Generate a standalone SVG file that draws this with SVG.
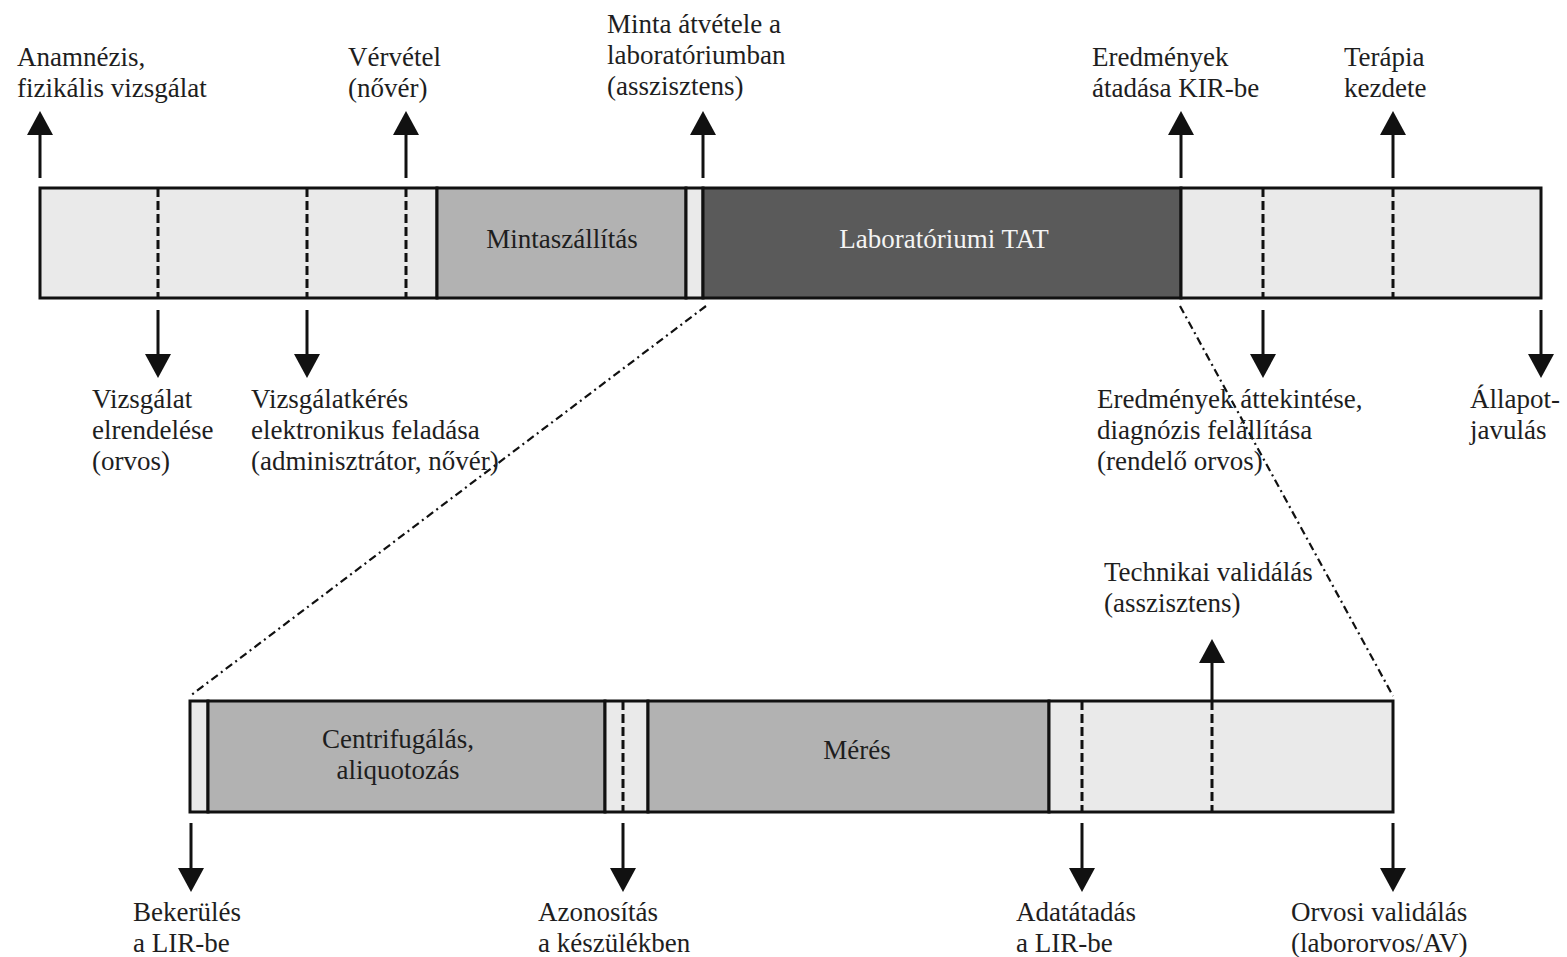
<svg xmlns="http://www.w3.org/2000/svg" width="1567" height="957" viewBox="0 0 1567 957">
<defs>
<marker id="ah" markerUnits="userSpaceOnUse" markerWidth="24" markerHeight="26" refX="0" refY="13" orient="auto" viewBox="0 0 24 26">
<path d="M0,0 L24,13 L0,26 z" fill="#111"/>
</marker>
<style>
.t{font-family:"Liberation Serif","Times New Roman",serif;font-size:27px;fill:#1e1e1e}
.w{fill:#f4f4f4}
.c{text-anchor:middle}
.light{fill:#eaeaea;stroke:#111;stroke-width:3}
.mid{fill:#b2b2b2;stroke:#111;stroke-width:3}
.dark{fill:#5a5a5a;stroke:#111;stroke-width:3}
.dash{stroke:#111;stroke-width:3;stroke-dasharray:9 4;fill:none}
.arr{stroke:#111;stroke-width:3;fill:none;marker-end:url(#ah)}
.zoom{stroke:#111;stroke-width:2.2;fill:none;stroke-dasharray:8 4 2 4}
</style>
</defs>
<rect width="1567" height="957" fill="#fff"/>

<g id="top-pre">
<rect class="light" x="40" y="188" width="397" height="110"/>
<line class="dash" x1="158" y1="188" x2="158" y2="298"/>
<line class="dash" x1="307" y1="188" x2="307" y2="298"/>
<line class="dash" x1="406" y1="188" x2="406" y2="298"/>
</g>
<g id="top-transport">
<rect class="mid" x="437" y="188" width="249" height="110"/>
<text class="t c" x="562" y="248">Mintaszállítás</text>
</g>
<g id="top-gap">
<rect class="light" x="686" y="188" width="17" height="110"/>
</g>
<g id="top-lab">
<rect class="dark" x="703" y="188" width="478" height="110"/>
<text class="t c w" x="944" y="248">Laboratóriumi TAT</text>
</g>
<g id="top-post">
<rect class="light" x="1181" y="188" width="360" height="110"/>
<line class="dash" x1="1263" y1="188" x2="1263" y2="298"/>
<line class="dash" x1="1393" y1="188" x2="1393" y2="298"/>
</g>

<g id="bot-in">
<rect class="light" x="190" y="701" width="18" height="111"/>
</g>
<g id="bot-centri">
<rect class="mid" x="208" y="701" width="397" height="111"/>
<text class="t c" x="398" y="748">Centrifugálás,<tspan x="398" dy="31">aliquotozás</tspan></text>
</g>
<g id="bot-id">
<rect class="light" x="605" y="701" width="43" height="111"/>
<line class="dash" x1="623" y1="701" x2="623" y2="812"/>
</g>
<g id="bot-meres">
<rect class="mid" x="648" y="701" width="401" height="111"/>
<text class="t c" x="857" y="759">Mérés</text>
</g>
<g id="bot-valid">
<rect class="light" x="1049" y="701" width="344" height="111"/>
<line class="dash" x1="1082" y1="701" x2="1082" y2="812"/>
<line class="dash" x1="1212" y1="701" x2="1212" y2="812"/>
</g>

<g id="connectors">
<line class="arr" x1="40" y1="178" x2="40" y2="135"/>
<line class="arr" x1="406" y1="178" x2="406" y2="135"/>
<line class="arr" x1="703" y1="178" x2="703" y2="135"/>
<line class="arr" x1="1181" y1="178" x2="1181" y2="135"/>
<line class="arr" x1="1393" y1="178" x2="1393" y2="135"/>
<line class="arr" x1="158" y1="310" x2="158" y2="354"/>
<line class="arr" x1="307" y1="310" x2="307" y2="354"/>
<line class="arr" x1="1263" y1="310" x2="1263" y2="354"/>
<line class="arr" x1="1541" y1="310" x2="1541" y2="354"/>
<line class="arr" x1="1212" y1="700" x2="1212" y2="663"/>
<line class="arr" x1="191" y1="823" x2="191" y2="868"/>
<line class="arr" x1="623" y1="823" x2="623" y2="868"/>
<line class="arr" x1="1082" y1="823" x2="1082" y2="868"/>
<line class="arr" x1="1393" y1="823" x2="1393" y2="868"/>
<line class="zoom" x1="706" y1="306" x2="190" y2="696"/>
<line class="zoom" x1="1180" y1="306" x2="1393" y2="696"/>
</g>

<g id="lbl-anamnezis"><text class="t" x="17" y="66">Anamnézis,<tspan x="17" dy="31">fizikális vizsgálat</tspan></text></g>
<g id="lbl-vervetel"><text class="t" x="348" y="66">Vérvétel<tspan x="348" dy="31">(nővér)</tspan></text></g>
<g id="lbl-minta"><text class="t" x="607" y="33">Minta átvétele a<tspan x="607" dy="31">laboratóriumban</tspan><tspan x="607" dy="31">(asszisztens)</tspan></text></g>
<g id="lbl-kir"><text class="t" x="1092" y="66">Eredmények<tspan x="1092" dy="31">átadása KIR-be</tspan></text></g>
<g id="lbl-terapia"><text class="t" x="1344" y="66">Terápia<tspan x="1344" dy="31">kezdete</tspan></text></g>
<g id="lbl-elrendeles"><text class="t" x="92" y="408">Vizsgálat<tspan x="92" dy="31">elrendelése</tspan><tspan x="92" dy="31">(orvos)</tspan></text></g>
<g id="lbl-keres"><text class="t" x="251" y="408">Vizsgálatkérés<tspan x="251" dy="31">elektronikus feladása</tspan><tspan x="251" dy="31">(adminisztrátor, nővér)</tspan></text></g>
<g id="lbl-attekintes"><text class="t" x="1097" y="408">Eredmények áttekintése,<tspan x="1097" dy="31">diagnózis felállítása</tspan><tspan x="1097" dy="31">(rendelő orvos)</tspan></text></g>
<g id="lbl-allapot"><text class="t" x="1470" y="408">Állapot-<tspan x="1470" dy="31">javulás</tspan></text></g>
<g id="lbl-technikai"><text class="t" x="1104" y="581">Technikai validálás<tspan x="1104" dy="31">(asszisztens)</tspan></text></g>
<g id="lbl-bekerules"><text class="t" x="133" y="921">Bekerülés<tspan x="133" dy="31">a LIR-be</tspan></text></g>
<g id="lbl-azonositas"><text class="t" x="538" y="921">Azonosítás<tspan x="538" dy="31">a készülékben</tspan></text></g>
<g id="lbl-adatatadas"><text class="t" x="1016" y="921">Adatátadás<tspan x="1016" dy="31">a LIR-be</tspan></text></g>
<g id="lbl-orvosi"><text class="t" x="1291" y="921">Orvosi validálás<tspan x="1291" dy="31">(labororvos/AV)</tspan></text></g>
</svg>
